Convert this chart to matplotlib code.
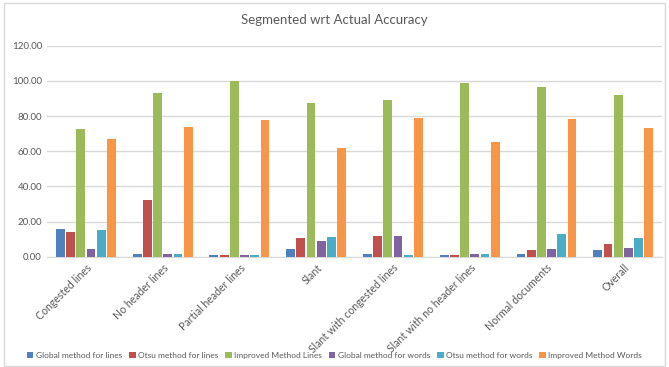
import numpy as np
import matplotlib.pyplot as plt
from matplotlib.patches import Rectangle

categories = ['Congested lines', 'No header lines', 'Partial header lines', 'Slant',
              'Slant with congested lines', 'Slant with no header lines',
              'Normal documents', 'Overall']

global_lines = [15.7, 1.5, 0.9, 4.4, 1.5, 0.8, 1.5, 3.8]
otsu_lines = [14.0, 32.2, 0.9, 10.6, 11.8, 0.8, 3.8, 7.2]
improved_lines = [72.6, 93.1, 99.9, 87.4, 89.1, 98.8, 96.5, 91.9]
global_words = [4.4, 1.5, 0.9, 8.9, 11.8, 1.5, 4.4, 4.9]
otsu_words = [15.2, 1.5, 0.9, 11.2, 0.9, 1.5, 12.9, 10.6]
improved_words = [66.9, 73.7, 77.7, 61.8, 78.9, 65.2, 78.3, 73.2]

series_names = ['Global method for lines', 'Otsu method for lines', 'Improved Method Lines',
                'Global method for words', 'Otsu method for words', 'Improved Method Words']
series = [global_lines, otsu_lines, improved_lines, global_words, otsu_words, improved_words]
colors = ['#4F81BD', '#C0504D', '#9BBB59', '#8064A2', '#4BACC6', '#F79646']

plt.rcParams['font.family'] = ['Lato', 'DejaVu Sans']
txt = '#595959'

fig = plt.figure(figsize=(6.69, 3.67), dpi=100)
fig.patches.append(Rectangle((0.006, 0.003), 0.988, 0.99, transform=fig.transFigure,
                             fill=False, edgecolor='#D9D9D9', linewidth=1))
ax = fig.add_axes([0.071, 0.3005, 0.918, 0.575])

x = np.arange(len(categories))
pitch = 0.133
width = 0.115
for i, (vals, name, c) in enumerate(zip(series, series_names, colors)):
    ax.bar(x + (i - 2.5) * pitch, vals, width, color=c, label=name, zorder=3)

ax.set_xlim(-0.5, len(categories) - 0.5)
ax.set_ylim(0, 120)
ax.set_yticks(np.arange(0, 121, 20))
ax.set_yticklabels([f'{v:.2f}' for v in np.arange(0, 121, 20)], fontsize=7, color=txt)
ax.set_xticks(x)
ax.set_xticklabels(categories, rotation=45, ha='right', rotation_mode='anchor',
                   fontsize=7.6, color=txt)
ax.tick_params(axis='both', length=0, pad=4)
ax.grid(axis='y', color='#D9D9D9', linewidth=1, zorder=0)
for s in ['top', 'right', 'left']:
    ax.spines[s].set_visible(False)
ax.spines['bottom'].set_color('#D9D9D9')

fig.text(0.5, 0.945, 'Segmented wrt Actual Accuracy', ha='center', va='center',
         fontsize=9.5, color=txt)

fig.legend(loc='center', bbox_to_anchor=(0.5, 0.032), ncol=6, frameon=False,
           fontsize=6, handlelength=0.8, handleheight=0.8, handletextpad=0.3,
           columnspacing=0.8, labelcolor=txt)

fig.savefig('out.png', dpi=100)
